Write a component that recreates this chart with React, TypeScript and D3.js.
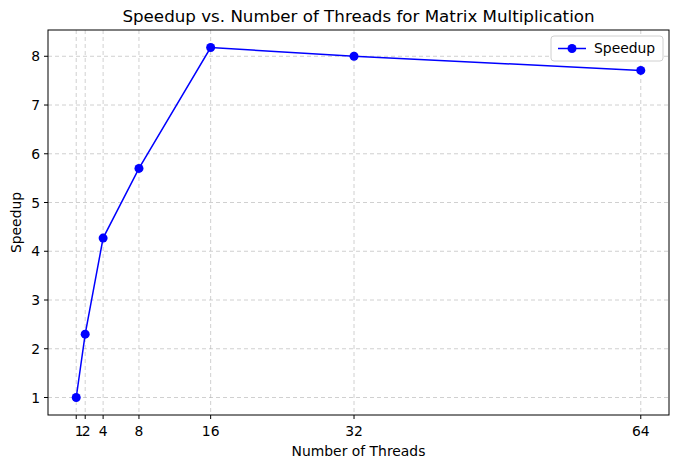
import React from 'react';
import * as d3 from 'd3';

const threads = [1, 2, 4, 8, 16, 32, 64];
const speedup = [1.0, 2.3, 4.27, 5.7, 8.18, 8.0, 7.71];
const yTicks = [1, 2, 3, 4, 5, 6, 7, 8];

const App: React.FC = () => {
  const width = 678;
  const height = 468;
  const margin = { top: 30, right: 9, bottom: 53, left: 48 };
  const x = d3.scaleLinear().domain([-2.15, 67.15]).range([margin.left, width - margin.right]);
  const y = d3.scaleLinear().domain([0.641, 8.539]).range([height - margin.bottom, margin.top]);
  const line = d3.line<number>().x((_, i) => x(threads[i])).y(d => y(d));
  const font = 'DejaVu Sans, sans-serif';
  const bottom = height - margin.bottom;
  const fs = 13.9;

  return (
    <svg width={width} height={height} style={{ position: 'absolute', left: 0, top: 0, fontFamily: font }}>
      <rect width={width} height={height} fill="#fff" />
      {threads.map(t => (
        <g key={'x' + t}>
          <line x1={x(t)} x2={x(t)} y1={margin.top} y2={bottom} stroke="#b0b0b0" strokeOpacity={0.6} strokeDasharray="4,3" />
          <line x1={x(t)} x2={x(t)} y1={bottom} y2={bottom + 4} stroke="#000" />
        </g>
      ))}
      <text y={bottom + 20} fontSize={fs} fill="#000">
        {threads.map(t => (
          <tspan key={'xt' + t} x={t === 1 ? x(t) + 3 : t === 2 ? x(t) + 1 : x(t)} textAnchor="middle" y={bottom + 21}>{t}</tspan>
        ))}
      </text>
      {yTicks.map(t => (
        <g key={'y' + t}>
          <line x1={margin.left} x2={width - margin.right} y1={y(t)} y2={y(t)} stroke="#b0b0b0" strokeOpacity={0.6} strokeDasharray="4,3" />
          <line x1={margin.left - 4} x2={margin.left} y1={y(t)} y2={y(t)} stroke="#000" />
          <text x={margin.left - 8} y={y(t) + 5} textAnchor="end" fontSize={fs}>{t}</text>
        </g>
      ))}
      <rect x={margin.left} y={margin.top} width={width - margin.left - margin.right} height={bottom - margin.top} fill="none" stroke="#000" />
      <path d={line(speedup) || ''} fill="none" stroke="#0000ff" strokeWidth={1.5} />
      {speedup.map((v, i) => (
        <circle key={'p' + i} cx={x(threads[i])} cy={y(v)} r={4.5} fill="#0000ff" />
      ))}
      <text x={(margin.left + width - margin.right) / 2} y={22} textAnchor="middle" fontSize={16.7}>Speedup vs. Number of Threads for Matrix Multiplication</text>
      <text x={(margin.left + width - margin.right) / 2} y={456} textAnchor="middle" fontSize={fs}>Number of Threads</text>
      <text transform={`translate(21,${(margin.top + bottom) / 2}) rotate(-90)`} textAnchor="middle" fontSize={fs}>Speedup</text>
      <g transform="translate(551,36)">
        <rect width={112} height={25} rx={3} fill="#fff" stroke="#d0d0d0" />
        <line x1={7} x2={35} y1={12.5} y2={12.5} stroke="#0000ff" strokeWidth={1.5} />
        <circle cx={21} cy={12.5} r={4.5} fill="#0000ff" />
        <text x={43} y={17} fontSize={fs}>Speedup</text>
      </g>
    </svg>
  );
};

export default App;
